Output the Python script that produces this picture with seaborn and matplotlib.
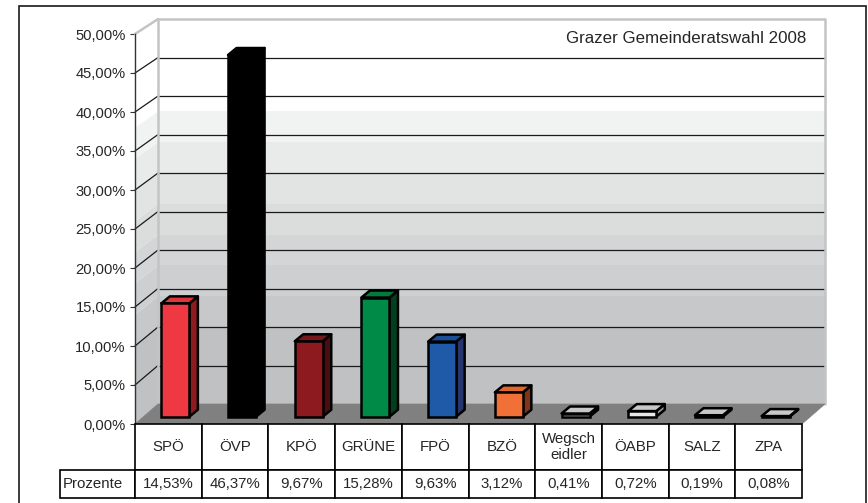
# -*- coding: utf-8 -*-
# Grazer Gemeinderatswahl 2008 - 3D-style bar chart with data table
import matplotlib
matplotlib.use("Agg")
import matplotlib.pyplot as plt
import matplotlib.transforms as mtransforms
from matplotlib.patches import Polygon, Rectangle
from matplotlib.lines import Line2D
from matplotlib.table import Table
import seaborn as sns
import pandas as pd

# Data
parties = ["SPÖ", "ÖVP", "KPÖ", "GRÜNE", "FPÖ", "BZÖ", "Wegscheidler", "ÖABP", "SALZ", "ZPA"]
header_labels = ["SPÖ", "ÖVP", "KPÖ", "GRÜNE", "FPÖ", "BZÖ", "Wegsch\neidler", "ÖABP", "SALZ", "ZPA"]
percent = [14.53, 46.37, 9.67, 15.28, 9.63, 3.12, 0.41, 0.72, 0.19, 0.08]
y_ticks = [0, 5, 10, 15, 20, 25, 30, 35, 40, 45, 50]
title = "Grazer Gemeinderatswahl 2008"

# Colours (front / side / top face)
front_colors = ["#EE3942", "#000000", "#8C1A1F", "#008A47", "#1E5AA8",
                "#F07038", "#E8E8E8", "#E8E8E8", "#E8E8E8", "#E8E8E8"]
side_colors = ["#8E1B20", "#000000", "#4B0E10", "#00401F", "#27356E",
               "#7E3518", "#9A9A9A", "#9A9A9A", "#9A9A9A", "#9A9A9A"]
top_colors = ["#E0353D", "#000000", "#7A171B", "#007A3D", "#1C4E96",
              "#E06630", "#C8C8C8", "#C8C8C8", "#C8C8C8", "#C8C8C8"]

# wall shading bands (value range, colour)
wall_bands = [(0, 10, "#bfc1c2"), (10, 14, "#c6c8c9"), (14, 18, "#cdcfd0"),
              (18, 22, "#d4d5d6"), (22, 26, "#dbdcdc"), (26, 30, "#e2e3e3"),
              (30, 34, "#e9eaea"), (34, 38, "#f1f2f2"), (38, 50, "#ffffff")]

sns.set_style("white")
plt.rcParams["font.family"] = ["Liberation Sans", "DejaVu Sans"]

W, H = 868, 503
fig = plt.figure(figsize=(W / 100, H / 100), dpi=100)
ax = fig.add_axes([135 / W, 1 - 424 / H, 667 / W, 390 / H])
ax.patch.set_visible(False)

df = pd.DataFrame({"Partei": parties, "Prozent": percent})
sns.barplot(data=df, x="Partei", y="Prozent", hue="Partei", palette=front_colors,
            legend=False, width=0.42, saturation=1, edgecolor="black",
            linewidth=1.8, ax=ax, zorder=6)
bars = list(ax.patches)

ax.set_xlim(-0.5, 9.5)
ax.set_ylim(0, 50)

# oblique projection: back wall and bar plane are shifted copies of the front plane
x0, y0 = ax.transData.transform((-0.5, 0))
back = ax.transData + mtransforms.Affine2D().translate(-x0, -y0).scale(1, 0.987).translate(x0 + 23, y0 + 20)
bar_tr = ax.transData + mtransforms.Affine2D().translate(7, 7.3)
depth = (8.5, 7.0)
ident = mtransforms.IdentityTransform()


def pt(tr, x, y):
    return tr.transform((x, y))


def poly(points, **kw):
    p = Polygon(points, closed=True, transform=ident, clip_on=False, **kw)
    ax.add_artist(p)
    return p


def dline(p, q, **kw):
    ln = Line2D([p[0], q[0]], [p[1], q[1]], transform=ident, clip_on=False, **kw)
    ax.add_artist(ln)


front = ax.transData

# walls
for v0, v1, c in wall_bands:
    ax.add_artist(Rectangle((-0.5, v0), 10, v1 - v0, transform=back, fc=c, lw=0,
                            clip_on=False, zorder=1))
    poly([pt(front, -0.5, v0), pt(front, -0.5, v1), pt(back, -0.5, v1), pt(back, -0.5, v0)],
         fc=c, lw=0, zorder=1)

# gridlines on back wall + diagonals on the left wall
for v in y_ticks[1:-1]:
    ax.plot([-0.5, 9.5], [v, v], transform=back, color="#1a1a1a", lw=0.9,
            clip_on=False, zorder=2)
    dline(pt(front, -0.5, v), pt(back, -0.5, v), color="#1a1a1a", lw=0.9, zorder=2)

# wall borders
ax.plot([-0.5, -0.5, 9.5, 9.5], [0, 50, 50, 0], transform=back, color="#c4c4c4",
        lw=1.8, clip_on=False, zorder=2)
dline(pt(front, -0.5, 50), pt(back, -0.5, 50), color="#c4c4c4", lw=1.8, zorder=2)

# floor
poly([pt(front, -0.5, 0), pt(front, 9.5, 0), pt(back, 9.5, 0), pt(back, -0.5, 0)],
     fc="#808080", ec="#808080", lw=0.5, zorder=3)

# 3D bars: side and top faces
for b, sc, tc in zip(bars, side_colors, top_colors):
    b.set_transform(bar_tr)
    b.set_clip_on(False)
    x, w, h = b.get_x(), b.get_width(), b.get_height()
    a = pt(bar_tr, x + w, 0)
    t = pt(bar_tr, x + w, h)
    l = pt(bar_tr, x, h)
    dx, dy = depth
    poly([a, t, (t[0] + dx, t[1] + dy), (a[0] + dx, a[1] + dy)], fc=sc, ec="black",
         lw=1.8, joinstyle="round", zorder=5)
    poly([l, t, (t[0] + dx, t[1] + dy), (l[0] + dx, l[1] + dy)], fc=tc, ec="black",
         lw=1.8, joinstyle="round", zorder=5)

# axis
for s in ["top", "right", "bottom"]:
    ax.spines[s].set_visible(False)
ax.spines["left"].set_color("#333333")
ax.spines["left"].set_linewidth(1.0)
ax.spines["left"].set_zorder(7)
ax.set_yticks(y_ticks, [f"{v:.2f}%".replace(".", ",") for v in y_ticks])
ax.tick_params(axis="y", left=True, direction="out", length=3.6, width=0.8,
               color="#333333", labelsize=10.6, pad=3)
ax.set_xticks([])
ax.set_xlabel("")
ax.set_ylabel("")

# data table (bbox covers the party columns, label column hangs to the left)
lab_w = 75 / 667
h0, h1 = 46 / 390, 28 / 390
tbl = Table(ax, bbox=[0, -(h0 + h1), 1, h0 + h1])
cell_text = [f"{v:.2f}%".replace(".", ",") for v in percent]
for i, lab in enumerate(header_labels):
    tbl.add_cell(0, i, width=0.1, height=h0, text=lab, loc="center", facecolor="white")
    tbl.add_cell(1, i, width=0.1, height=h1, text=cell_text[i], loc="center", facecolor="white")
c = tbl.add_cell(1, -1, width=lab_w, height=h1, text="Prozente", loc="left", facecolor="white")
c.PAD = 0.04
tbl.auto_set_font_size(False)
tbl.set_fontsize(10.8)
for cell in tbl.get_celld().values():
    cell.set_linewidth(1.2)
    cell.set_edgecolor("black")
tbl.set_zorder(8)
ax.add_table(tbl)

# title
fig.text(806 / W, 1 - 38.5 / H, title, ha="right", va="center", fontsize=12.2)

# outer frame (bottom edge runs past the picture)
fig.add_artist(Rectangle((18.5 / W, 1 - 510 / H), (866 - 18.5) / W, (510 - 6) / H,
                         transform=fig.transFigure, fill=False, ec="#1a1a1a", lw=1.2))

fig.savefig("out.png", dpi=100)
